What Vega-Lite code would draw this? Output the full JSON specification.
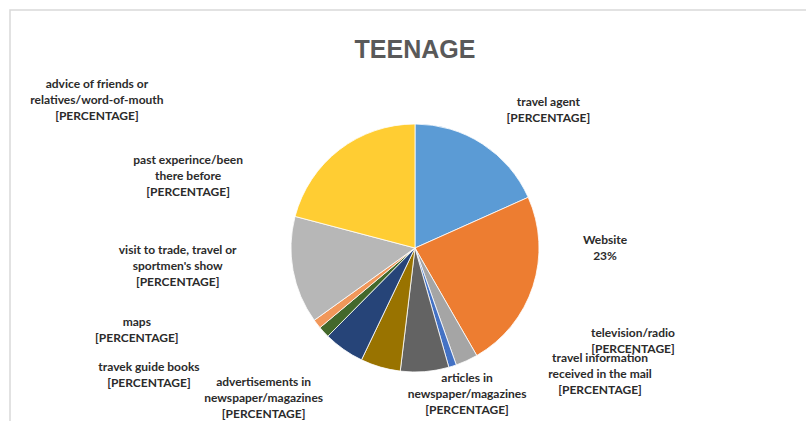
{
  "$schema": "https://vega.github.io/schema/vega-lite/v6.json",
  "width": 810,
  "height": 476,
  "autosize": {"type": "none"},
  "padding": {"left": 10, "top": 10, "right": 0, "bottom": 0},
  "background": "white",
  "view": {"stroke": "#D9D9D9", "strokeWidth": 1.5, "fill": "white"},
  "config": {"view": {"stroke": "#D9D9D9", "strokeWidth": 1.5}, "font": "Lato"},
  "title": {"text": "TEENAGE", "font": "Liberation Sans", "fontSize": 25, "fontWeight": "bold", "color": "#595959", "anchor": "middle", "offset": -53},
  "data": {"values": [
    {"order": 1, "source": "travel agent", "pct": 18.3, "label": "travel agent\n[PERCENTAGE]"},
    {"order": 2, "source": "Website", "pct": 23.4, "label": "Website\n23%"},
    {"order": 3, "source": "television/radio", "pct": 2.9, "label": "television/radio\n[PERCENTAGE]"},
    {"order": 4, "source": "travel information received in the mail", "pct": 1.0, "label": "travel information\nreceived in the mail\n[PERCENTAGE]"},
    {"order": 5, "source": "articles in newspaper/magazines", "pct": 6.3, "label": "articles in\nnewspaper/magazines\n[PERCENTAGE]"},
    {"order": 6, "source": "advertisements in newspaper/magazines", "pct": 5.2, "label": "advertisements in\nnewspaper/magazines\n[PERCENTAGE]"},
    {"order": 7, "source": "travek guide books", "pct": 5.3, "label": "travek guide books\n[PERCENTAGE]"},
    {"order": 8, "source": "maps", "pct": 1.5, "label": "maps\n[PERCENTAGE]"},
    {"order": 9, "source": "visit to trade, travel or sportmen's show", "pct": 1.2, "label": "visit to trade, travel or\nsportmen's show\n[PERCENTAGE]"},
    {"order": 10, "source": "past experince/been there before", "pct": 14.0, "label": "past experince/been\nthere before\n[PERCENTAGE]"},
    {"order": 11, "source": "advice of friends or relatives/word-of-mouth", "pct": 20.9, "label": "advice of friends or\nrelatives/word-of-mouth\n[PERCENTAGE]"}
  ]},
  "transform": [
    {"stack": "pct", "groupby": [], "sort": [{"field": "order", "order": "ascending"}], "as": ["p0", "p1"]}
  ],
  "encoding": {
    "theta": {"field": "p0", "type": "quantitative", "scale": {"domain": [0, 100]}}
  },
  "layer": [
    {
      "mark": {"type": "arc", "outerRadius": 124, "stroke": "white", "strokeWidth": 0.8},
      "encoding": {
        "theta2": {"field": "p1"},
        "color": {"field": "source", "type": "nominal", "legend": null,
          "scale": {
            "domain": ["travel agent", "Website", "television/radio", "travel information received in the mail", "articles in newspaper/magazines", "advertisements in newspaper/magazines", "travek guide books", "maps", "visit to trade, travel or sportmen's show", "past experince/been there before", "advice of friends or relatives/word-of-mouth"],
            "range": ["#5B9BD5", "#ED7D31", "#A5A5A5", "#4472C4", "#636363", "#997300", "#264478", "#43682B", "#F1975A", "#B7B7B7", "#FFCD33"]
          }}
      }
    },
    {"transform": [{"filter": "datum.order == 1"}], "mark": {"type": "text", "radius": 192, "thetaOffset": 0.768, "dy": -8, "lineBreak": "\n", "lineHeight": 16, "fontSize": 12, "fontWeight": "bold", "color": "#2b2b2b", "align": "center", "baseline": "middle"}, "encoding": {"text": {"field": "label"}}},
    {"transform": [{"filter": "datum.order == 2"}], "mark": {"type": "text", "radius": 190, "thetaOffset": 0.421, "dy": -8, "lineBreak": "\n", "lineHeight": 16, "fontSize": 12, "fontWeight": "bold", "color": "#2b2b2b", "align": "center", "baseline": "middle"}, "encoding": {"text": {"field": "label"}}},
    {"transform": [{"filter": "datum.order == 3"}], "mark": {"type": "text", "radius": 237, "thetaOffset": -0.646, "dy": -8, "lineBreak": "\n", "lineHeight": 16, "fontSize": 12, "fontWeight": "bold", "color": "#2b2b2b", "align": "center", "baseline": "middle"}, "encoding": {"text": {"field": "label"}}},
    {"transform": [{"filter": "datum.order == 4"}], "mark": {"type": "text", "radius": 224, "thetaOffset": -0.633, "dy": -16, "lineBreak": "\n", "lineHeight": 16, "fontSize": 12, "fontWeight": "bold", "color": "#2b2b2b", "align": "center", "baseline": "middle"}, "encoding": {"text": {"field": "label"}}},
    {"transform": [{"filter": "datum.order == 5"}], "mark": {"type": "text", "radius": 155, "thetaOffset": -0.066, "dy": -16, "lineBreak": "\n", "lineHeight": 16, "fontSize": 12, "fontWeight": "bold", "color": "#2b2b2b", "align": "center", "baseline": "middle"}, "encoding": {"text": {"field": "label"}}},
    {"transform": [{"filter": "datum.order == 6"}], "mark": {"type": "text", "radius": 213, "thetaOffset": 0.671, "dy": -16, "lineBreak": "\n", "lineHeight": 16, "fontSize": 12, "fontWeight": "bold", "color": "#2b2b2b", "align": "center", "baseline": "middle"}, "encoding": {"text": {"field": "label"}}},
    {"transform": [{"filter": "datum.order == 7"}], "mark": {"type": "text", "radius": 295, "thetaOffset": 0.678, "dy": -8, "lineBreak": "\n", "lineHeight": 16, "fontSize": 12, "fontWeight": "bold", "color": "#2b2b2b", "align": "center", "baseline": "middle"}, "encoding": {"text": {"field": "label"}}},
    {"transform": [{"filter": "datum.order == 8"}], "mark": {"type": "text", "radius": 290, "thetaOffset": 0.505, "dy": -8, "lineBreak": "\n", "lineHeight": 16, "fontSize": 12, "fontWeight": "bold", "color": "#2b2b2b", "align": "center", "baseline": "middle"}, "encoding": {"text": {"field": "label"}}},
    {"transform": [{"filter": "datum.order == 9"}], "mark": {"type": "text", "radius": 238, "thetaOffset": 0.622, "dy": -16, "lineBreak": "\n", "lineHeight": 16, "fontSize": 12, "fontWeight": "bold", "color": "#2b2b2b", "align": "center", "baseline": "middle"}, "encoding": {"text": {"field": "label"}}},
    {"transform": [{"filter": "datum.order == 10"}], "mark": {"type": "text", "radius": 238, "thetaOffset": 0.929, "dy": -16, "lineBreak": "\n", "lineHeight": 16, "fontSize": 12, "fontWeight": "bold", "color": "#2b2b2b", "align": "center", "baseline": "middle"}, "encoding": {"text": {"field": "label"}}},
    {"transform": [{"filter": "datum.order == 11"}], "mark": {"type": "text", "radius": 351, "thetaOffset": 0.179, "dy": -16, "lineBreak": "\n", "lineHeight": 16, "fontSize": 12, "fontWeight": "bold", "color": "#2b2b2b", "align": "center", "baseline": "middle"}, "encoding": {"text": {"field": "label"}}}
  ]
}
